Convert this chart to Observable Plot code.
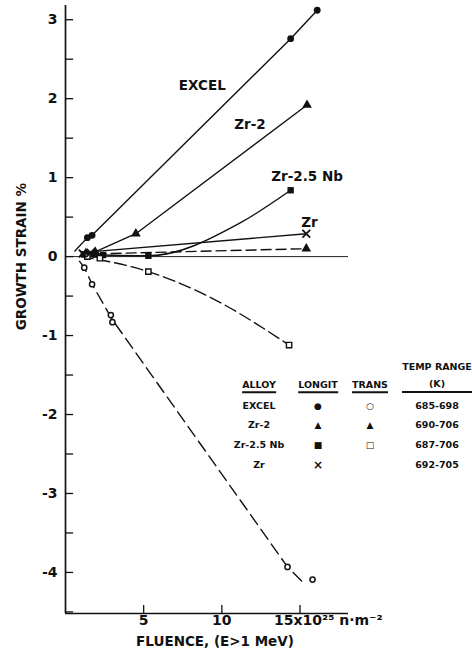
<!DOCTYPE html>
<html><head><meta charset="utf-8">
<script src="https://cdn.jsdelivr.net/npm/d3@7"></script>
<script src="https://cdn.jsdelivr.net/npm/@observablehq/plot@0.6"></script>
<style>
body{margin:0;background:#fff;}
#wrap{position:relative;width:472px;height:656px;font-family:"DejaVu Sans",sans-serif;font-weight:bold;color:#111;overflow:hidden}
.lg{position:absolute;font-size:9.5px;transform:translate(-50%,-50%);white-space:nowrap;line-height:1}
.u{border-bottom:2px solid #111;padding-bottom:1px}
.rule{position:absolute;height:2px;background:#111}
</style></head><body><div id="wrap"></div>
<script>
// ---- data ----
// EXCEL longitudinal (filled circles)
const excelLongX = [1.4, 1.7, 14.4, 16.1];
const excelLongY = [0.24, 0.27, 2.76, 3.12];
const excelLongLineX = [0.6, 1.4, 1.7, 14.4, 16.1];
const excelLongLineY = [0.07, 0.24, 0.27, 2.76, 3.12];
// EXCEL transverse (open circles)
const excelTransX = [1.2, 1.7, 2.9, 3.0, 14.2, 15.8];
const excelTransY = [-0.14, -0.35, -0.74, -0.83, -3.93, -4.09];
const excelTransLineX = [0.9, 1.2, 1.7, 3.0, 14.2, 15.3];
const excelTransLineY = [-0.06, -0.14, -0.35, -0.8, -3.93, -4.15];
// Zr-2 longitudinal (filled triangles)
const zr2LongX = [1.3, 1.9, 4.5, 15.45];
const zr2LongY = [0.04, 0.06, 0.29, 1.92];
const zr2LongLineX = [1.2, 2.0, 4.5, 15.45];
const zr2LongLineY = [0.03, 0.07, 0.29, 1.92];
// Zr-2 transverse (triangles, dashed)
const zr2TransX = [1.3, 2.0, 15.4];
const zr2TransY = [0.03, 0.02, 0.1];
const zr2TransLineX = [1.0, 15.4];
const zr2TransLineY = [0.03, 0.1];
// Zr-2.5 Nb longitudinal (filled squares)
const nbLongX = [1.2, 1.8, 2.4, 5.3, 14.4];
const nbLongY = [0.03, 0.03, 0.02, 0.01, 0.84];
const nbLongLineX = [1.0, 5.3, 11.2, 14.4];
const nbLongLineY = [0.03, 0.01, 0.43, 0.84];
// Zr-2.5 Nb transverse (open squares, dashed)
const nbTransX = [1.4, 2.2, 5.3, 14.3];
const nbTransY = [0.0, -0.02, -0.19, -1.12];
const nbTransLineX = [1.0, 5.3, 9.0, 14.3];
const nbTransLineY = [0.0, -0.19, -0.49, -1.12];
// Zr longitudinal (crosses)
const zrLongX = [1.1, 1.6, 15.4];
const zrLongY = [0.04, 0.05, 0.29];
const zrLongLineX = [1.0, 15.4];
const zrLongLineY = [0.05, 0.29];

// curve labels
const curveLabels = ["EXCEL", "Zr-2", "Zr-2.5 Nb", "Zr"];
const curveLabelX = [8.75, 11.8, 15.45, 15.6];
const curveLabelY = [2.16, 1.67, 1.01, 0.43];

// axes
const yMin = -4.52, yMax = 3.18, xMax = 18.1;
const yTicks = [-4, -3, -2, -1, 0, 1, 2, 3];
const yMinorTicks = [-4.5, -3.5, -2.5, -1.5, -0.5, 0.5, 1.5, 2.5];
const xTicks = [5, 10];
const xTickLabels = ["5", "10"];
const xLastTick = [15];
const xLastTickLabel = "15x10²⁵ n·m⁻²";
const yLabel = "GROWTH STRAIN %";
const xLabel = "FLUENCE, (E>1 MeV)";

// legend table
const legendAlloys = ["EXCEL", "Zr-2", "Zr-2.5 Nb", "Zr"];
const legendLongit = ["●", "▲", "■", "×"];
const legendTrans = ["○", "▲", "□", ""];
const legendTemp = ["685-698", "690-706", "687-706", "692-705"];

const pts = (xs, ys) => xs.map((x, i) => ({x, y: ys[i]}));

const lineOpts = {x: "x", y: "y", stroke: "#111", strokeWidth: 1.4};
const curveOpts = {...lineOpts, curve: "monotone-x"};
const dashOpts = {...lineOpts, strokeDasharray: "10,5"};
const allTicks = yTicks.concat(yMinorTicks).filter(t => t > yMin);

const chart = Plot.plot({
  width: 472, height: 656,
  marginLeft: 65, marginRight: 124, marginTop: 5, marginBottom: 43,
  style: {fontFamily: "DejaVu Sans, sans-serif", fontWeight: "bold", fontSize: "14px", color: "#111", background: "white", overflow: "visible"},
  x: {domain: [0, xMax], axis: null},
  y: {domain: [yMin, yMax], axis: null},
  marks: [
    Plot.ruleY([0], {stroke: "#222", strokeWidth: 1}),
    Plot.ruleX([0], {stroke: "#111", strokeWidth: 1.7}),
    Plot.ruleY([yMin], {stroke: "#111", strokeWidth: 1.7}),
    Plot.ruleY(allTicks, {x1: 0, x2: 0.52, stroke: "#111", strokeWidth: 1.3}),
    Plot.ruleX(xTicks.concat(xLastTick), {y1: yMin, y2: yMin + 0.1, stroke: "#111", strokeWidth: 1.3}),
    Plot.axisY(yTicks, {tickSize: 0, tickPadding: 8, label: null, fontSize: 14, tickFormat: d => String(d)}),
    Plot.text(xTicks, {x: d => d, frameAnchor: "bottom", dy: 11, text: (d, i) => xTickLabels[i], fontSize: 14}),
    Plot.text(xLastTick, {x: d => d, frameAnchor: "bottom", dy: 11, dx: -26, textAnchor: "start", text: () => xLastTickLabel, fontSize: 14}),
    Plot.text([xLabel], {frameAnchor: "bottom", dy: 32, dx: 8, text: d => d, fontSize: 13.5, letterSpacing: "0.9px"}),
    Plot.text([yLabel], {frameAnchor: "left", textAnchor: "middle", y: () => 0, dx: -44, rotate: -90, text: d => d, fontSize: 13.5}),
    // lines
    Plot.line(pts(excelLongLineX, excelLongLineY), lineOpts),
    Plot.line(pts(zr2LongLineX, zr2LongLineY), lineOpts),
    Plot.line(pts(nbLongLineX, nbLongLineY), curveOpts),
    Plot.line(pts(zrLongLineX, zrLongLineY), lineOpts),
    Plot.line(pts(zr2TransLineX, zr2TransLineY), dashOpts),
    Plot.line(pts(nbTransLineX, nbTransLineY), {...curveOpts, strokeDasharray: "12,5"}),
    Plot.line(pts(excelTransLineX, excelTransLineY), {...lineOpts, strokeDasharray: "12,6"}),
    // markers
    Plot.dot(pts(excelLongX, excelLongY), {x: "x", y: "y", symbol: "circle", r: 3.4, fill: "#111"}),
    Plot.dot(pts(excelTransX, excelTransY), {x: "x", y: "y", symbol: "circle", r: 2.6, fill: "white", stroke: "#111", strokeWidth: 1.5}),
    Plot.dot(pts(zr2LongX, zr2LongY), {x: "x", y: "y", symbol: "triangle", r: 3.6, fill: "#111"}),
    Plot.dot(pts(zr2TransX, zr2TransY), {x: "x", y: "y", symbol: "triangle", r: 3.6, fill: "#111"}),
    Plot.dot(pts(nbLongX, nbLongY), {x: "x", y: "y", symbol: "square", r: 3.6, fill: "#111"}),
    Plot.dot(pts(nbTransX, nbTransY), {x: "x", y: "y", symbol: "square", r: 3.0, fill: "white", stroke: "#111", strokeWidth: 1.4}),
    Plot.dot(pts(zrLongX, zrLongY), {x: "x", y: "y", symbol: "times", r: 3.6, stroke: "#111", strokeWidth: 1.8}),
    // curve labels
    Plot.text(curveLabels, {x: (d, i) => curveLabelX[i], y: (d, i) => curveLabelY[i], text: d => d, fontSize: 13.5})
  ]
});
const wrap = document.getElementById("wrap");
chart.style.position = "absolute";
chart.style.left = "0"; chart.style.top = "0";
wrap.appendChild(chart);

// legend table overlay
function put(text, x, y, cls, size) {
  const s = document.createElement("div");
  s.className = "lg";
  s.style.left = x + "px"; s.style.top = y + "px";
  if (size) s.style.fontSize = size + "px";
  const inner = document.createElement("span");
  if (cls) inner.className = cls;
  inner.textContent = text;
  s.appendChild(inner);
  wrap.appendChild(s);
}
const colX = [259, 318, 370, 437];
const rowY = [406, 425, 445, 465];
put("ALLOY", colX[0], 385, "u");
put("LONGIT", colX[1], 385, "u");
put("TRANS", colX[2], 385, "u");
put("TEMP RANGE", colX[3], 367);
put("(K)", colX[3], 384);
const r = document.createElement("div");
r.className = "rule"; r.style.left = "402px"; r.style.top = "391px"; r.style.width = "72px";
wrap.appendChild(r);
legendAlloys.forEach((a, i) => {
  put(a, colX[0], rowY[i]);
  put(legendLongit[i], colX[1], rowY[i], null, i === 3 ? 12 : 9);
  if (legendTrans[i]) put(legendTrans[i], colX[2], rowY[i], null, 9);
  put(legendTemp[i], colX[3], rowY[i]);
});
</script></body></html>
